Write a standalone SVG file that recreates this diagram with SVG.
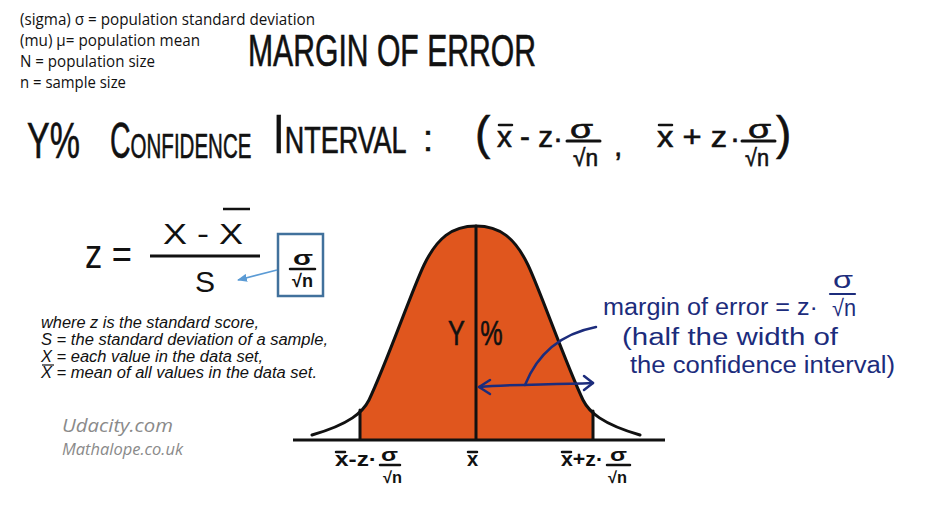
<svg xmlns="http://www.w3.org/2000/svg" width="925" height="512" viewBox="0 0 925 512">
<defs>
<style>
.def{font-family:"Open Sans","Liberation Sans",sans-serif;font-size:15.5px;fill:#111}
.hw{font-family:"Liberation Sans","DejaVu Sans",sans-serif;fill:#111;stroke:#111;stroke-width:0.6}
.hwb{font-family:"Liberation Sans","DejaVu Sans",sans-serif;font-weight:bold;fill:#111}
.blue{font-family:"Liberation Sans","DejaVu Sans",sans-serif;font-size:23px;fill:#1c2c7c}
.ar{font-family:"Liberation Sans","DejaVu Sans",sans-serif;fill:#111}
.it{font-family:"Liberation Sans","DejaVu Sans",sans-serif;font-style:italic;font-size:16px;fill:#111}
.wm{font-family:"Open Sans","Liberation Sans",sans-serif;font-style:italic;fill:#8a8a8a}
.bar{stroke:#111;stroke-width:2.5;stroke-linecap:round;fill:none}
.bbar{stroke:#1c2c7c;stroke-width:2.2;stroke-linecap:round;fill:none}
.ink{stroke:#111;stroke-width:3;fill:none;stroke-linecap:round}
.navy{stroke:#1c2c7c;stroke-width:2.5;fill:none;stroke-linecap:round;stroke-linejoin:round}
</style>
<marker id="lbArrow" markerWidth="10" markerHeight="8" refX="9" refY="4" orient="auto" markerUnits="userSpaceOnUse">
<path d="M0,0 L10,4 L0,8 Z" fill="#5b9bd5"/>
</marker>
<clipPath id="ciClip"><rect x="360" y="200" width="233" height="245"/></clipPath>
</defs>
<rect width="925" height="512" fill="#ffffff"/>

<g id="legend">
<text class="def" x="20" y="25" textLength="295" lengthAdjust="spacingAndGlyphs">(sigma) σ = population standard deviation</text>
<text class="def" x="20" y="46" textLength="180" lengthAdjust="spacingAndGlyphs">(mu) μ= population mean</text>
<text class="def" x="20" y="67" textLength="135" lengthAdjust="spacingAndGlyphs">N = population size</text>
<text class="def" x="20" y="88" textLength="106" lengthAdjust="spacingAndGlyphs">n = sample size</text>
</g>

<g id="title">
<text class="hw" x="248" y="66" font-size="44" textLength="288" lengthAdjust="spacingAndGlyphs">MARGIN OF ERROR</text>
</g>

<g id="ci-heading">
<text class="hw" transform="translate(27,158) scale(0.68,1)" font-size="50">Y%</text>
<text class="hw" transform="translate(110,158) scale(0.57,1)"><tspan font-size="50">C</tspan><tspan font-size="36">ONFIDENCE</tspan></text>
<text class="hw" transform="translate(273,153) scale(0.75,1)"><tspan font-size="56">I</tspan><tspan font-size="36">NTERVAL</tspan></text>
<text class="hw" x="423" y="151" font-size="36">:</text>
</g>

<g id="ci-formula">
<text class="hw" x="475" y="149" font-size="46">(</text>
<text class="hw" x="497" y="147" font-size="30" textLength="56" lengthAdjust="spacingAndGlyphs">x - z</text>
<path class="bar" d="M499,125 L512,125"/>
<text class="hw" x="553" y="148" font-size="30">·</text>
<text class="hw" x="570" y="138" font-size="26" textLength="23" lengthAdjust="spacingAndGlyphs">σ</text>
<path class="ink" d="M567,141 L600,141"/>
<text class="hw" x="573" y="166" font-size="24" textLength="25" lengthAdjust="spacingAndGlyphs">√n</text>
<text class="hw" x="614" y="156" font-size="30">,</text>
<text class="hw" x="657" y="147" font-size="30" textLength="70" lengthAdjust="spacingAndGlyphs">x + z</text>
<path class="bar" d="M659,125 L672,125"/>
<text class="hw" x="730" y="148" font-size="30">·</text>
<text class="hw" x="748" y="138" font-size="26" textLength="23" lengthAdjust="spacingAndGlyphs">σ</text>
<path class="ink" d="M742,141 L775,141"/>
<text class="hw" x="745" y="166" font-size="24" textLength="24" lengthAdjust="spacingAndGlyphs">√n</text>
<text class="hw" x="776" y="149" font-size="46">)</text>
</g>

<g id="z-formula">
<text class="ar" x="85" y="268" font-size="40" textLength="47" lengthAdjust="spacingAndGlyphs">z =</text>
<text class="ar" x="163" y="244" font-size="30" textLength="80" lengthAdjust="spacingAndGlyphs">X - X</text>
<path d="M223,209 L250,209" stroke="#111" stroke-width="2.5"/>
<path d="M150,256 L260,256" stroke="#111" stroke-width="3"/>
<text class="ar" x="195" y="292" font-size="30">S</text>
</g>

<g id="sigma-box">
<rect x="278" y="234" width="45" height="62" fill="#ffffff" stroke="#41719c" stroke-width="2.5"/>
<text class="hwb" x="293" y="265" font-size="20" textLength="20" lengthAdjust="spacingAndGlyphs">σ</text>
<path class="bar" d="M290,269 L315,269"/>
<text class="hwb" x="292" y="287" font-size="18" textLength="21" lengthAdjust="spacingAndGlyphs">√n</text>
</g>

<g id="definitions">
<text class="it" x="41" y="328" textLength="218" lengthAdjust="spacingAndGlyphs">where z is the standard score,</text>
<text class="it" x="41" y="345" textLength="287" lengthAdjust="spacingAndGlyphs">S = the standard deviation of a sample,</text>
<text class="it" x="41" y="362" textLength="222" lengthAdjust="spacingAndGlyphs">X = each value in the data set,</text>
<text class="it" x="41" y="378" textLength="276" lengthAdjust="spacingAndGlyphs">X = mean of all values in the data set.</text>
<path d="M42,365 L54,365" stroke="#111" stroke-width="1.2"/>
</g>

<g id="credits">
<text class="wm" x="62" y="432" font-size="19" textLength="111" lengthAdjust="spacingAndGlyphs">Udacity.com</text>
<text class="wm" x="62" y="455" font-size="15.5" textLength="121" lengthAdjust="spacingAndGlyphs">Mathalope.co.uk</text>
</g>

<g id="bell-curve">
<path d="M312,435 C350,424 363,412 369,400 C387,362 412,290 424,265 C437,238 452,226 476,226 C500,226 515,238 528,265 C540,290 565,362 583,400 C589,412 602,424 640,435 L640,440 L312,440 Z" fill="#e0561e" clip-path="url(#ciClip)"/>
<path class="ink" d="M312,435 C350,424 363,412 369,400 C387,362 412,290 424,265 C437,238 452,226 476,226 C500,226 515,238 528,265 C540,290 565,362 583,400 C589,412 602,424 640,435"/>
<path class="ink" d="M360,410 L360,439"/>
<path class="ink" d="M593,411 L593,439"/>
<path class="ink" d="M476,226 L476,439"/>
<path d="M293,440 L665,440" stroke="#111" stroke-width="3"/>
<text class="hw" transform="translate(448,345) scale(0.7,1)" font-size="36"><tspan x="0">Y</tspan><tspan x="46">%</tspan></text>
</g>

<g id="axis-labels">
<text class="hwb" x="335" y="466" font-size="20" textLength="42" lengthAdjust="spacingAndGlyphs">x-z·</text>
<path class="bar" d="M336,452 L345,452"/>
<text class="hwb" x="381" y="461" font-size="18" textLength="17" lengthAdjust="spacingAndGlyphs">σ</text>
<path class="bar" d="M380,465 L400,465"/>
<text class="hwb" x="383" y="483" font-size="16" textLength="19" lengthAdjust="spacingAndGlyphs">√n</text>
<text class="hwb" x="467" y="466" font-size="20">x</text>
<path class="bar" d="M468,452 L477,452"/>
<text class="hwb" x="561" y="466" font-size="20" textLength="42" lengthAdjust="spacingAndGlyphs">x+z·</text>
<path class="bar" d="M562,452 L571,452"/>
<text class="hwb" x="610" y="461" font-size="18" textLength="17" lengthAdjust="spacingAndGlyphs">σ</text>
<path class="bar" d="M607,465 L630,465"/>
<text class="hwb" x="608" y="483" font-size="16" textLength="19" lengthAdjust="spacingAndGlyphs">√n</text>
</g>

<g id="margin-note">
<text class="blue" x="603" y="315" textLength="215" lengthAdjust="spacingAndGlyphs">margin of error = z·</text>
<text class="blue" x="833" y="288" font-size="20" textLength="20" lengthAdjust="spacingAndGlyphs">σ</text>
<path class="bbar" d="M830,294 L855,294"/>
<text class="blue" x="832" y="316" font-size="18" textLength="24" lengthAdjust="spacingAndGlyphs">√n</text>
<text class="blue" x="622" y="345" textLength="216" lengthAdjust="spacingAndGlyphs">(half the width of</text>
<text class="blue" x="630" y="373" textLength="265" lengthAdjust="spacingAndGlyphs">the confidence interval)</text>
</g>

<g id="connectors">
<path d="M277,270 L238,280" stroke="#5b9bd5" stroke-width="1.5" fill="none" marker-end="url(#lbArrow)"/>
<path class="navy" d="M479,387 C510,384 545,385 593,383"/>
<path class="navy" d="M490,380 L479,387 L490,394"/>
<path class="navy" d="M584,376 L593,383 L584,390"/>
<path class="navy" d="M525,385 C535,360 555,335 596,327"/>
</g>
</svg>
